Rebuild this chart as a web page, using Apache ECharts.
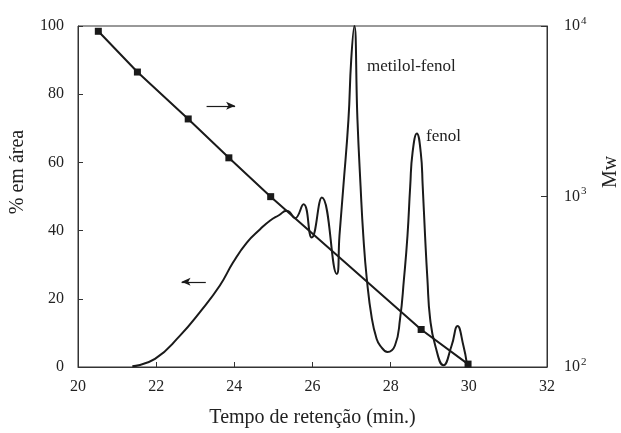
<!DOCTYPE html>
<html>
<head>
<meta charset="utf-8">
<script src="https://cdn.jsdelivr.net/npm/echarts@6/dist/echarts.min.js"></script>
<style>
  html, body { margin: 0; padding: 0; background: #fff; }
  #chart { width: 621px; height: 433px; }
</style>
</head>
<body>
<div id="chart"></div>
<script>
var serif = 'Liberation Serif';

// Mw calibration points (retention time, Mw)
var mwTimes = [20.52, 21.52, 22.82, 23.86, 24.93, 28.78, 29.98];
var mwValues = [9310, 5370, 2850, 1686, 998, 166, 104];

// chromatogram (retention time, % area)
var areaTimes = [21.39, 21.97, 22.61, 23.12, 23.63, 23.97, 24.32, 24.66, 24.91, 25.14, 25.34,
  25.42, 25.55, 25.77, 25.98, 26.24, 26.62, 26.69, 26.79, 26.92, 26.99, 27.07,
  27.15, 27.23, 27.3, 27.39, 27.52, 27.64, 27.73, 27.92, 28.11, 28.24, 28.34, 28.43, 28.5, 28.56,
  28.67, 28.77, 28.82, 28.88, 28.94, 29.01, 29.14, 29.35, 29.56, 29.71, 29.86, 29.95];
var areaValues = [0.2, 2.4, 9.2, 16.1, 23.9, 30.7, 36.5, 40.4, 42.9, 44.5, 45.8,
  45.4, 43.6, 47.7, 38.0, 49.7, 27.3, 38.5, 53, 72.6, 90, 100,
  72.6, 53, 38.5, 25.8, 14.1, 8.3, 6.3, 4.4, 6.3, 14.1, 25.8, 38.5, 53, 62.9,
  68.5, 62.9, 53, 38.5, 25.8, 14.1, 6.3, 0.5, 6.3, 12.0, 6.3, 1.0];

var xTicks = [20, 22, 24, 26, 28, 30, 32];
var leftTicks = [0, 20, 40, 60, 80, 100];

// direction arrows: [x1, y1, x2, y2] in % area units
var arrowRight = [23.29, 76.6, 24.02, 76.6];
var arrowLeft = [23.27, 25.0, 22.65, 25.0];

function pairs(xs, ys) {
  var out = [];
  for (var i = 0; i < xs.length; i++) out.push([xs[i], ys[i]]);
  return out;
}

var chart = echarts.init(document.getElementById('chart'));

var option = {
  animation: false,
  backgroundColor: '#fff',
  textStyle: { fontFamily: serif, color: '#222' },
  grid: {
    left: 78, right: 74, top: 26, bottom: 65,
    show: true, borderColor: '#333', borderWidth: 1
  },
  xAxis: {
    type: 'value',
    min: xTicks[0], max: xTicks[xTicks.length - 1], interval: 2,
    name: 'Tempo de retenção (min.)',
    nameLocation: 'middle', nameGap: 41,
    nameTextStyle: { fontFamily: serif, fontSize: 20, color: '#222' },
    axisLine: { lineStyle: { color: '#333', width: 1 } },
    axisTick: { inside: true, length: 5, lineStyle: { color: '#333' } },
    axisLabel: { fontFamily: serif, fontSize: 16, color: '#222', margin: 12 },
    splitLine: { show: false }
  },
  yAxis: [{
    type: 'value',
    min: leftTicks[0], max: leftTicks[leftTicks.length - 1], interval: 20,
    axisLine: { show: true, lineStyle: { color: '#333', width: 1 } },
    axisTick: { show: true, inside: true, length: 5, lineStyle: { color: '#333' } },
    axisLabel: { fontFamily: serif, fontSize: 16, color: '#222', margin: 14 },
    splitLine: { show: false }
  }, {
    type: 'log', logBase: 10,
    min: 100, max: 10000,
    position: 'right',
    axisLine: { show: true, lineStyle: { color: '#333', width: 1 } },
    axisTick: { show: true, inside: true, length: 6, lineStyle: { color: '#333' } },
    minorTick: { show: false },
    axisLabel: {
      margin: 17,
      formatter: function (v) {
        return '{b|10}{s|' + Math.round(Math.log10(v)) + '}';
      },
      rich: {
        b: { fontFamily: serif, fontSize: 16, color: '#222' },
        s: { fontFamily: serif, fontSize: 11, color: '#222', verticalAlign: 'top', padding: [0, 0, 10, 1] }
      }
    },
    splitLine: { show: false }
  }],
  series: [{
    name: 'area',
    type: 'line',
    yAxisIndex: 0,
    data: pairs(areaTimes, areaValues),
    smooth: 0.5,
    showSymbol: false,
    lineStyle: { color: '#1a1a1a', width: 2 },
    markLine: {
      silent: true,
      symbol: ['none', 'arrow'],
      symbolSize: [6, 9],
      label: { show: false },
      lineStyle: { color: '#1a1a1a', width: 1.2, type: 'solid' },
      data: [
        [{ coord: [arrowRight[0], arrowRight[1]] }, { coord: [arrowRight[2], arrowRight[3]] }],
        [{ coord: [arrowLeft[0], arrowLeft[1]] }, { coord: [arrowLeft[2], arrowLeft[3]] }]
      ]
    },
    z: 3
  }, {
    name: 'Mw',
    type: 'line',
    yAxisIndex: 1,
    data: pairs(mwTimes, mwValues),
    symbol: 'rect',
    symbolSize: 7,
    itemStyle: { color: '#1a1a1a' },
    lineStyle: { color: '#1a1a1a', width: 2 },
    z: 4
  }],
  graphic: [{
    type: 'text', x: 18, y: 172, rotation: Math.PI / 2,
    style: { text: '% em área', font: '20px "Liberation Serif"', fill: '#222', align: 'center', verticalAlign: 'middle' }
  }, {
    type: 'text', x: 611, y: 172, rotation: Math.PI / 2,
    style: { text: 'Mw', font: '20px "Liberation Serif"', fill: '#222', align: 'center', verticalAlign: 'middle' }
  }, {
    type: 'text', x: 367, y: 67,
    style: { text: 'metilol-fenol', font: '17px "Liberation Serif"', fill: '#222', align: 'left', verticalAlign: 'middle' }
  }, {
    type: 'text', x: 426, y: 137,
    style: { text: 'fenol', font: '17px "Liberation Serif"', fill: '#222', align: 'left', verticalAlign: 'middle' }
  }]
};

chart.setOption(option);
</script>
</body>
</html>
